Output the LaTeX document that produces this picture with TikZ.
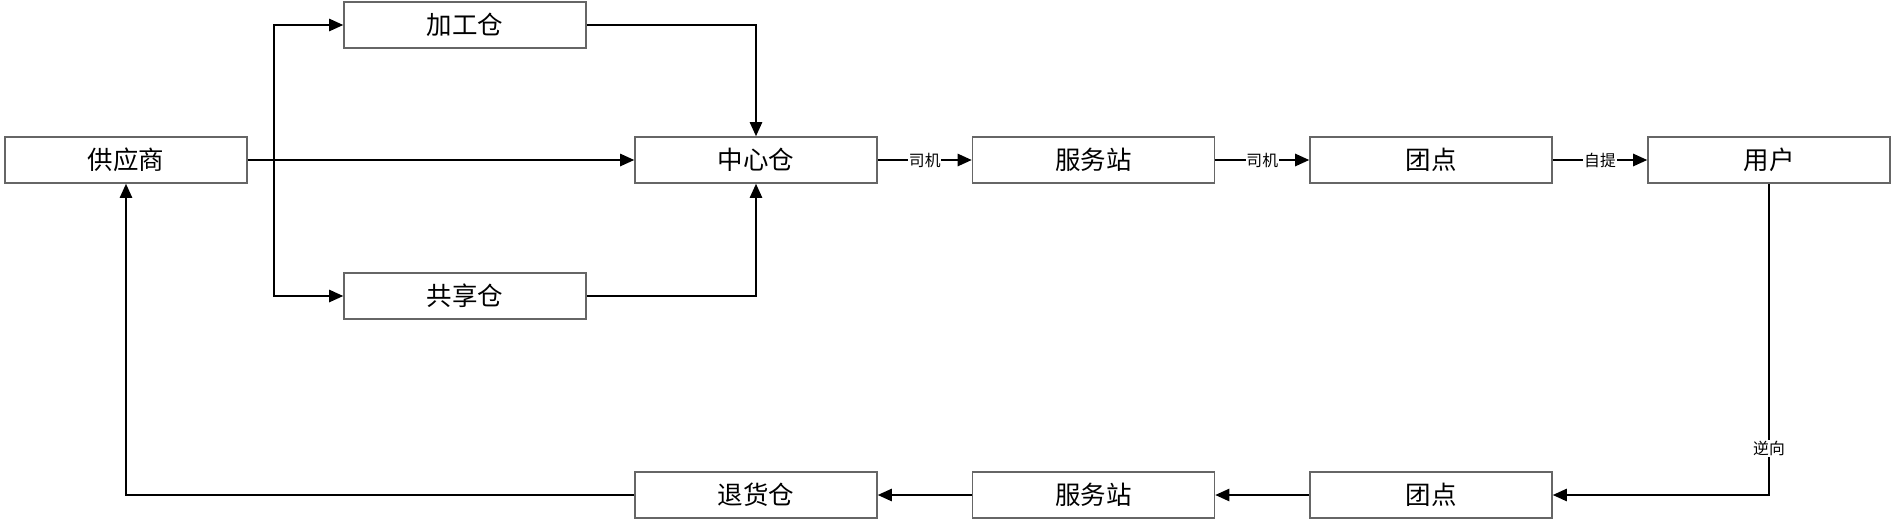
\documentclass[tikz,border=0pt]{standalone}
\usepackage{fontspec}
\setmainfont{Noto Sans CJK SC}
\usetikzlibrary{arrows.meta}
\tikzset{
    box/.style={draw=black!60,line width=0.9pt,minimum width=4.84cm,minimum height=0.92cm,inner sep=0pt,font=\fontsize{14.5}{16}\selectfont},
    flow/.style={line width=1pt,-{Triangle[length=8pt,width=7pt]}},
    lbl/.style={fill=white,inner sep=0.5pt,font=\fontsize{9}{10}\selectfont}
}
\begin{document}
\begin{tikzpicture}[x=0.02cm,y=-0.02cm]
            \useasboundingbox (0,0) rectangle (1896,521);
            \node[box] (supplier) at (126,160) {供应商};
            \node[box] (process) at (465,25) {加工仓};
            \node[box] (share) at (465,296) {共享仓};
            \node[box] (center) at (756,160) {中心仓};
            \node[box] (station) at (1093.5,160) {服务站};
            \node[box] (group) at (1431,160) {团点};
            \node[box] (user) at (1769,160) {用户};
            \node[box] (returns) at (756,495) {退货仓};
            \node[box] (station2) at (1093.5,495) {服务站};
            \node[box] (group2) at (1431,495) {团点};
            \coordinate (split) at (274,160);

            \draw[flow] (supplier) -- (center);
            \draw[flow] (supplier.east) -- (split) |- (process);
            \draw[flow] (supplier.east) -- (split) |- (share);
            \draw[flow] (process) -| (center);
            \draw[flow] (share) -| (center);
            \draw[flow] (center) -- node[lbl] {司机} (station);
            \draw[flow] (station) -- node[lbl] {司机} (group);
            \draw[flow] (group) -- node[lbl] {自提} (user);
            \draw[flow] (user) |- node[lbl,pos=0.425] {逆向} (group2);
            \draw[flow] (group2) -- (station2);
            \draw[flow] (station2) -- (returns);
            \draw[flow] (returns) -| (supplier);
        \end{tikzpicture}
\end{document}
